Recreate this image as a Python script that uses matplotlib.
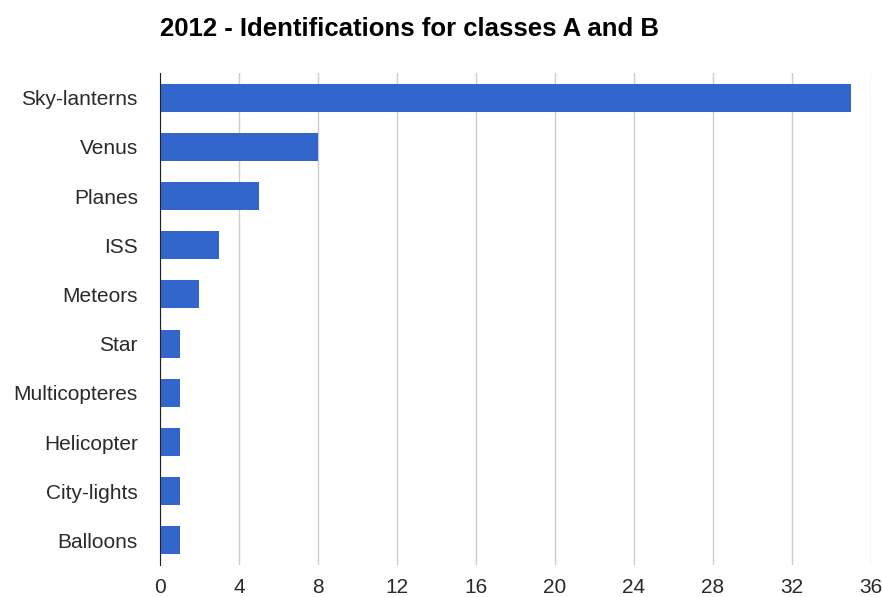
import matplotlib as mpl
import matplotlib.pyplot as plt

mpl.rcParams['font.family'] = ['Liberation Sans', 'DejaVu Sans']

categories = ['Sky-lanterns', 'Venus', 'Planes', 'ISS', 'Meteors', 'Star',
              'Multicopteres', 'Helicopter', 'City-lights', 'Balloons']
counts = [35, 8, 5, 3, 2, 1, 1, 1, 1, 1]
xticks = [0, 4, 8, 12, 16, 20, 24, 28, 32, 36]

fig = plt.figure(figsize=(8.82, 5.97), dpi=100)
ax = fig.add_axes([0.1814, 0.0536, 0.8061, 0.8241])

ypos = list(range(len(categories)))
ax.barh(ypos, counts, height=0.57, color='#3366cc', zorder=3)
ax.set_ylim(len(categories) - 0.5, -0.5)
ax.set_xlim(0, 36)
ax.set_yticks(ypos)
ax.set_yticklabels(categories)
ax.set_xticks(xticks)

ax.grid(axis='x', color='#cccccc', linewidth=1, zorder=0)
for s in ['top', 'right', 'bottom']:
    ax.spines[s].set_visible(False)
ax.spines['left'].set_color('#222222')
ax.spines['left'].set_zorder(4)
ax.tick_params(length=0, labelsize=15, labelcolor='#2a2a2a')
ax.tick_params(axis='y', pad=16)
ax.tick_params(axis='x', pad=9)

fig.text(0.1814, 0.951, '2012 - Identifications for classes A and B',
         fontsize=18.5, fontweight='bold', ha='left', va='center')

fig.savefig('out.png', dpi=100)
